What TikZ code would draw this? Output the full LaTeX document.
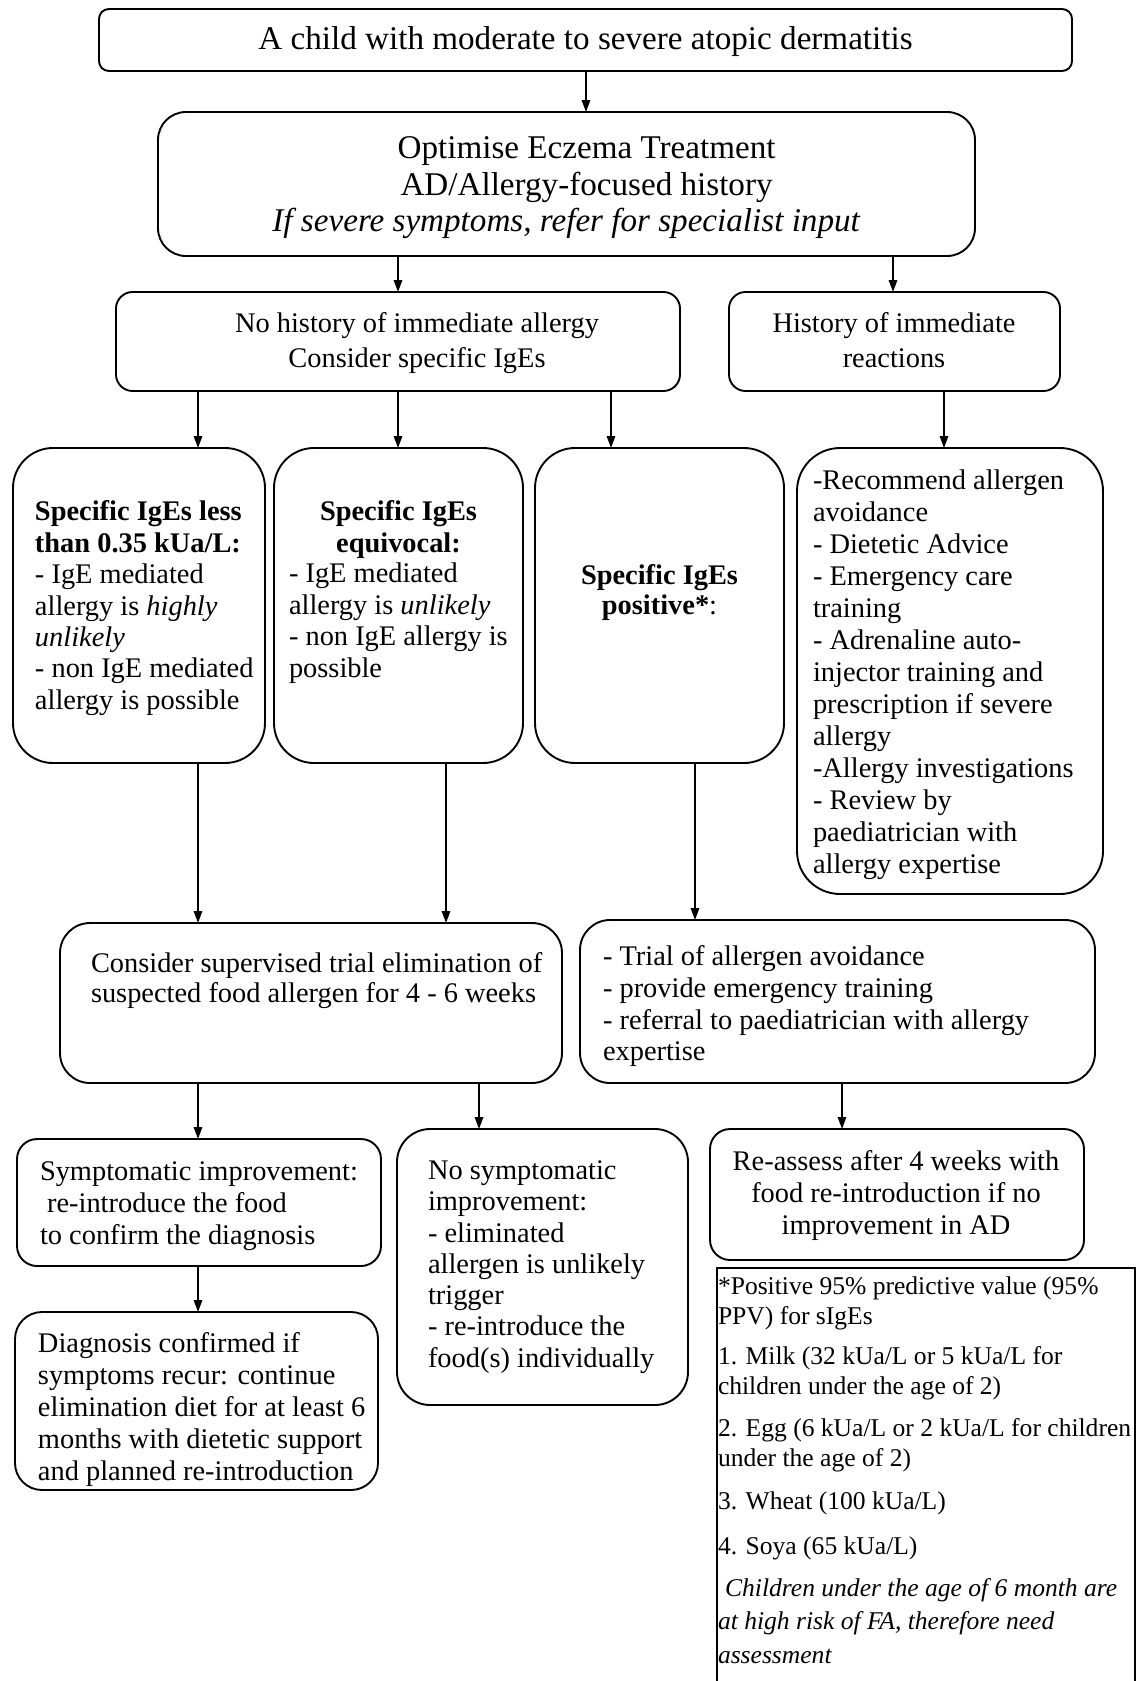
\documentclass[tikz,border=0pt]{standalone}
\usepackage{fontspec}
\setmainfont{Liberation Serif}
\usetikzlibrary{fit,arrows.meta}
\newcommand\fl{\rule{0pt}{0.9em}}
\begin{document}
\begin{tikzpicture}[x=0.4225pt,y=-0.4225pt,
  box/.style={draw, line width=0.8pt, inner sep=0pt, outer sep=0pt},
  txt/.style={inner sep=0pt, outer sep=0pt},
  fs/.style 2 args={font=\fontsize{#1}{#2}\selectfont},
  arr/.style={line width=0.8pt, -{Triangle[length=5pt,width=3.5pt]}}]
\useasboundingbox (0,0) rectangle (1136,1681);
% boxes
\node[box, rounded corners=4.2pt, fit={(99,9) (1072,71)}] (T) {};
\node[box, rounded corners=11.8pt, fit={(158,112) (975,256)}] (B2) {};
\node[box, rounded corners=7pt, fit={(116,292) (680,391)}] (B3) {};
\node[box, rounded corners=7pt, fit={(729,292) (1060,391)}] (B4) {};
\node[box, rounded corners=16.9pt, fit={(13,448) (265,763)}] (A) {};
\node[box, rounded corners=16.9pt, fit={(274,448) (523,763)}] (B) {};
\node[box, rounded corners=16.9pt, fit={(535,448) (784,763)}] (C) {};
\node[box, rounded corners=18.2pt, fit={(797,448) (1103,894)}] (D) {};
\node[box, rounded corners=12.7pt, fit={(60,923) (562,1083)}] (E) {};
\node[box, rounded corners=12.7pt, fit={(580,920) (1095,1083)}] (F) {};
\node[box, rounded corners=8.5pt, fit={(17,1139) (381,1266)}] (G) {};
\node[box, rounded corners=14pt, fit={(397,1129) (688,1405)}] (H) {};
\node[box, rounded corners=8.5pt, fit={(710,1129) (1084,1260)}] (I) {};
\node[box, rounded corners=11.4pt, fit={(15,1312) (378,1490)}] (J) {};
\node[inner sep=0pt, outer sep=0pt, fit={(717,1268) (1135,1681)}] (N) {};
\draw[line width=0.5pt] (N.south west) |- (N.north east) -- (N.south east);

% texts
\node[txt, fs={14}{16}] (tT) at (585.5,42) {A child with moderate to severe atopic dermatitis};
\node[txt, fs={14}{15.4}, align=center, anchor=north] (tB2) at (566.5,129)
  {\fl\hspace*{17pt}Optimise Eczema Treatment\\ \hspace*{17pt}AD/Allergy-focused history\\ \textit{If severe symptoms, refer for specialist input}};
\node[txt, fs={12}{14.8}, align=center, anchor=north] (tB3) at (417,307)
  {\fl No history of immediate allergy\\Consider specific IgEs};
\node[txt, fs={12}{14.8}, align=center, anchor=north] (tB4) at (894,307)
  {\fl History of immediate\\reactions};
\node[txt, fs={12}{13.3}, align=left, anchor=north west] (tA) at (35,495)
  {\fl\textbf{Specific IgEs less}\\\textbf{than 0.35 kUa/L:}\\- IgE mediated\\allergy is \textit{highly}\\\textit{unlikely}\\- non IgE mediated\\allergy is possible};
\node[txt, fs={12}{13.3}, align=center, anchor=north] (tBh) at (398.5,495)
  {\fl\textbf{Specific IgEs}\\\textbf{equivocal:}};
\node[txt, fs={12}{13.3}, align=left, anchor=north west] (tBb) at (289,557)
  {\fl - IgE mediated\\allergy is \textit{unlikely}\\- non IgE allergy is\\possible};
\node[txt, fs={12}{12.7}, align=center, anchor=north] (tC) at (659.5,559)
  {\fl\textbf{Specific IgEs}\\\textbf{positive*}:};
\node[txt, fs={12}{13.5}, align=left, anchor=north west] (tD) at (813,464)
  {\fl -Recommend allergen\\avoidance\\- Dietetic Advice\\- Emergency care\\training\\- Adrenaline auto-\\injector training and\\prescription if severe\\allergy\\-Allergy investigations\\- Review by\\paediatrician with\\allergy expertise};
\node[txt, fs={12}{12.7}, align=left, anchor=north west] (tE) at (91,947)
  {\fl Consider supervised trial elimination of\\suspected food allergen for 4 - 6 weeks};
\node[txt, fs={12}{13.4}, align=left, anchor=north west] (tF) at (603,940)
  {\fl - Trial of allergen avoidance\\- provide emergency training\\- referral to paediatrician with allergy\\expertise};
\node[txt, fs={12}{13.5}, align=left, anchor=north west] (tG) at (40,1155)
  {\fl Symptomatic improvement:\\\hspace*{3pt}re-introduce the food\\to confirm the diagnosis};
\node[txt, fs={12}{13.2}, align=left, anchor=north west] (tH) at (428,1154)
  {\fl No symptomatic\\improvement:\\- eliminated\\allergen is unlikely\\trigger\\- re-introduce the\\food(s) individually};
\node[txt, fs={12}{13.5}, align=center, anchor=north] (tI) at (896,1145)
  {\fl Re-assess after 4 weeks with\\food re-introduction if no\\improvement in AD};
\node[txt, fs={12}{13.5}, align=left, anchor=north west] (tJ) at (38,1327)
  {\fl Diagnosis confirmed if\\symptoms recur: continue\\elimination diet for at least 6\\months with dietetic support\\and planned re-introduction};
\node[txt, fs={10.8}{12.7}, align=left, anchor=north west] (tN) at (718,1271)
  {\fl *Positive 95\% predictive value (95\%\\PPV) for sIgEs\\[4.2pt]1. Milk (32 kUa/L or 5 kUa/L for\\children under the age of 2)\\[5pt]2. Egg (6 kUa/L or 2 kUa/L for children\\under the age of 2)\\[5.5pt]3. Wheat (100 kUa/L)\\[6.3pt]4. Soya (65 kUa/L)\\[5pt]\textit{\hspace*{3pt}Children under the age of 6 month are}\\[1.3pt]\textit{at high risk of FA, therefore need}\\[1.7pt]\textit{assessment}};

% connector columns
\coordinate (c586) at (586,0);
\coordinate (c398) at (398,0);
\coordinate (c893) at (893,0);
\coordinate (c198) at (198,0);
\coordinate (c611) at (611,0);
\coordinate (c944) at (944,0);
\coordinate (c446) at (446,0);
\coordinate (c695) at (695,0);
\coordinate (c479) at (479,0);
\coordinate (c842) at (842,0);

% connectors
\draw[arr] (T.south -| c586) -- (B2.north -| c586);
\draw[arr] (B2.south -| c398) -- (B3.north -| c398);
\draw[arr] (B2.south -| c893) -- (B4.north -| c893);
\draw[arr] (B3.south -| c198) -- (A.north -| c198);
\draw[arr] (B3.south -| c398) -- (B.north -| c398);
\draw[arr] (B3.south -| c611) -- (C.north -| c611);
\draw[arr] (B4.south -| c944) -- (D.north -| c944);
\draw[arr] (A.south -| c198) -- (E.north -| c198);
\draw[arr] (B.south -| c446) -- (E.north -| c446);
\draw[arr] (C.south -| c695) -- (F.north -| c695);
\draw[arr] (E.south -| c198) -- (G.north -| c198);
\draw[arr] (E.south -| c479) -- (H.north -| c479);
\draw[arr] (F.south -| c842) -- (I.north -| c842);
\draw[arr] (G.south -| c198) -- (J.north -| c198);
\end{tikzpicture}
\end{document}
